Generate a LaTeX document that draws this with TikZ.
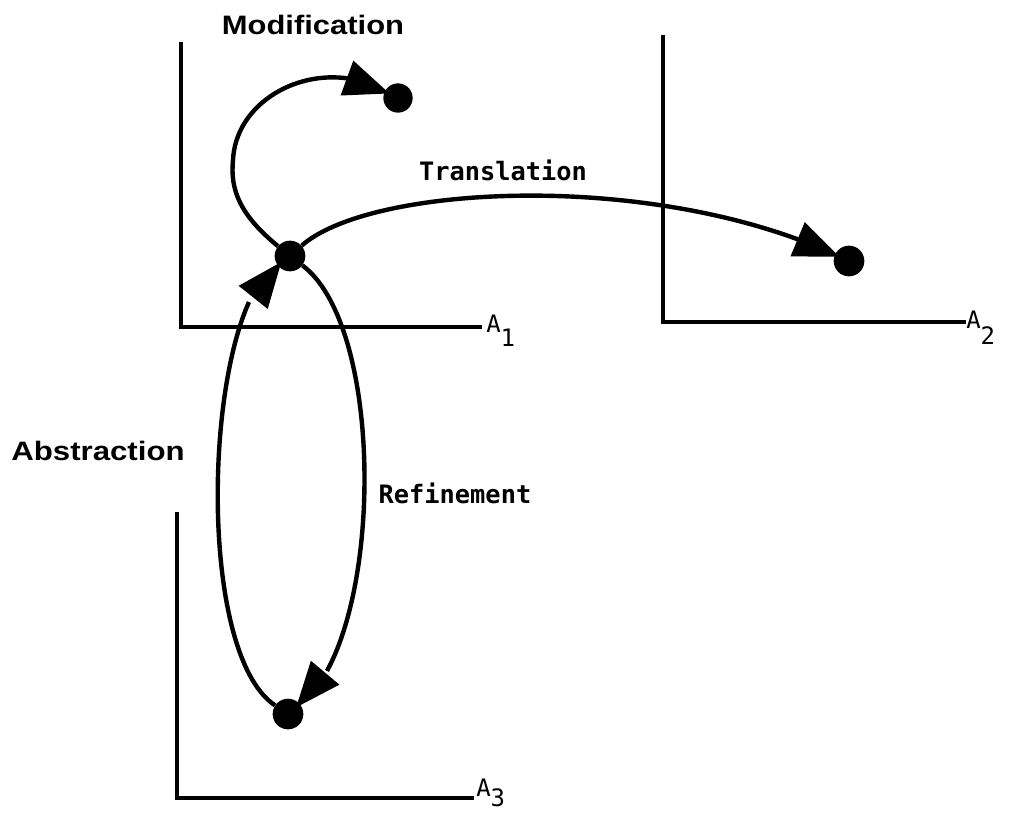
\documentclass[tikz,border=0pt]{standalone}
\usepackage{fontspec}
\setmainfont{Liberation Sans}
\newfontfamily\plotfont{DejaVu Sans Mono}
\usetikzlibrary{arrows.meta,bending}
\begin{document}
\begin{tikzpicture}[x=0.75pt,y=-0.75pt,
  axis/.style={line width=3.3pt},
  conn/.style={line width=3.3pt, -{Triangle[length=34pt,width=27pt,flex]}, shorten >=-4pt},
  dot/.style={circle, fill=black, inner sep=0pt, minimum size=23pt},
  boldlbl/.style={font=\fontsize{20}{24}\selectfont\bfseries, inner sep=0pt},
  plotlbl/.style={font=\plotfont\bfseries\fontsize{19}{22}\selectfont, inner sep=0pt},
  axlbl/.style={font=\plotfont\fontsize{18}{20}\selectfont, inner sep=0pt}]
\useasboundingbox (0,0) rectangle (1014,814);

% axes
\coordinate (A1top) at (181,42);
\coordinate (A1corner) at (181,327);
\coordinate (A1end) at (482,327);
\coordinate (A2top) at (663,35);
\coordinate (A2corner) at (663,322);
\coordinate (A2end) at (966,322);
\coordinate (A3top) at (177,512);
\coordinate (A3corner) at (177,798);
\coordinate (A3end) at (474,798);
\draw[axis] (A1top) -- (A1corner) -- (A1end);
\draw[axis] (A2top) -- (A2corner) -- (A2end);
\draw[axis] (A3top) -- (A3corner) -- (A3end);

\node[axlbl, anchor=base west] (LA1) at (486,332) {A\raisebox{-11pt}{1}};
\node[axlbl, anchor=base west] (LA2) at (966,328) {A\raisebox{-12pt}{2}};
\node[axlbl, anchor=base west] (LA3) at (476,796) {A\raisebox{-8pt}{3}};

% points
\node[dot] (P1) at (290,256) {};
\node[dot, minimum size=22pt] (P2) at (398,98) {};
\node[dot] (P3) at (849,261) {};
\node[dot] (P4) at (288,714) {};

% connectors
\draw[conn] (P1) .. controls (240,215) and (230,190) .. (233,160)
             .. controls (236,95) and (320,55) .. (P2);
\draw[conn] (P1) .. controls (370,185) and (650,170) .. (P3);
\draw[conn] (P4) .. controls (192,650) and (205,310) .. (P1);
\draw[conn] (P1) .. controls (388,330) and (383,640) .. (P4);

% labels
\node[boldlbl] (Lmod) at (313,25) {\scalebox{1.16}[1]{Modification}};
\node[boldlbl] (Labs) at (98,451) {\scalebox{1.17}[1]{Abstraction}};
\node[plotlbl] (Ltra) at (503,170) {Translation};
\node[plotlbl] (Lref) at (455,493) {Refinement};
\end{tikzpicture}
\end{document}
